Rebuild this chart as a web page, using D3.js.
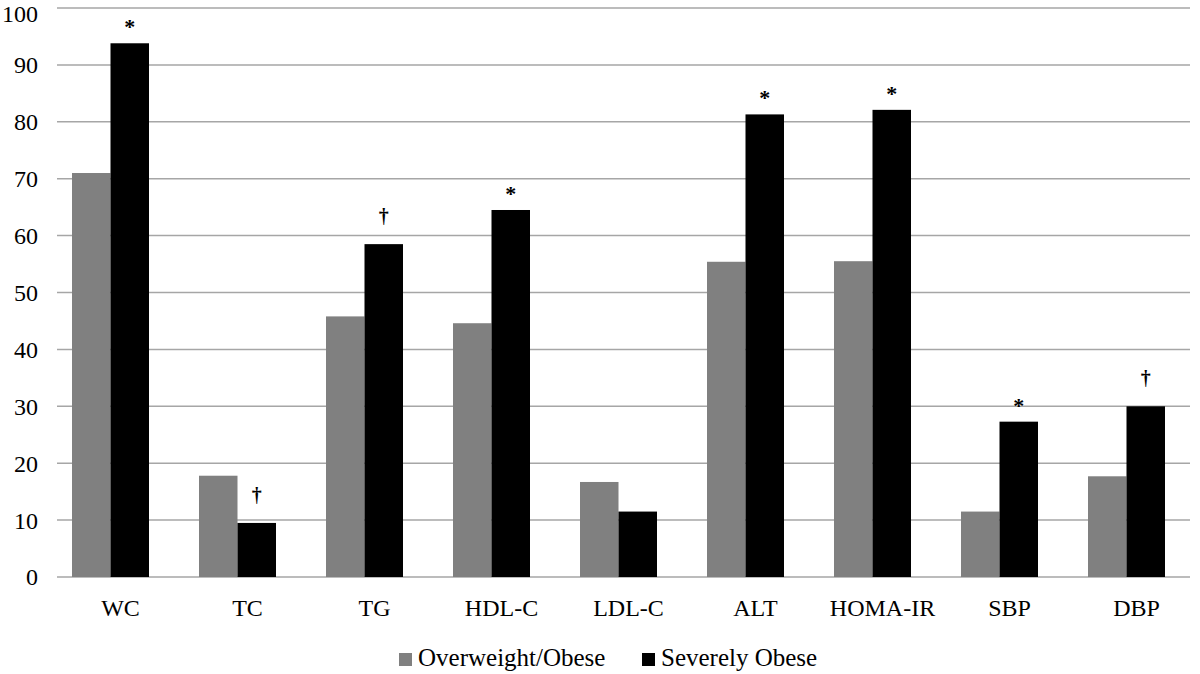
<!DOCTYPE html>
<html lang="en">
<head>
  <meta charset="UTF-8">
  <title>Overweight vs Severely Obese</title>
  <style>
    body { margin: 0; background: #fff; }
    text { font-family: "Liberation Serif", "Times New Roman", serif; fill: #000; }
  </style>
</head>
<body>
  <svg id="chart" width="1200" height="674"></svg>
  <script src="https://d3js.org/d3.v7.min.js"></script>
  <script>
    const categories = ["WC", "TC", "TG", "HDL-C", "LDL-C", "ALT", "HOMA-IR", "SBP", "DBP"];
    const overweight = [71.0, 17.8, 45.8, 44.6, 16.7, 55.4, 55.5, 11.5, 17.7];
    const severe = [93.8, 9.5, 58.5, 64.5, 11.5, 81.3, 82.1, 27.3, 30.0];
    const markers = ["*", "†", "†", "*", "", "*", "*", "*", "†"];
    const yTicks = [0, 10, 20, 30, 40, 50, 60, 70, 80, 90, 100];
    const seriesNames = ["Overweight/Obese", "Severely Obese"];
    const colors = ["#808080", "#000000"];

    const svg = d3.select("#chart");

    // plot area
    const gridLeft = 57, right = 1190;
    const y = d3.scaleLinear().domain([0, 100]).range([577, 8]);
    // bars sit slightly left of the label centers in the original
    const x = d3.scaleBand().domain(categories).range([47, 1190]);
    const xLabel = d3.scaleBand().domain(categories).range([57, 1200]);
    const barW = 38.5;

    // gridlines
    svg.append("g")
      .selectAll("line")
      .data(yTicks)
      .join("line")
      .attr("x1", gridLeft)
      .attr("x2", right)
      .attr("y1", d => y(d))
      .attr("y2", d => y(d))
      .attr("stroke", "#a6a6a6")
      .attr("stroke-width", 1.5);

    // y tick labels (top one nudged down so it stays inside the frame)
    svg.append("g")
      .selectAll("text")
      .data(yTicks)
      .join("text")
      .attr("x", 38)
      .attr("y", d => Math.max(y(d), 14))
      .attr("dy", "0.35em")
      .attr("text-anchor", "end")
      .attr("font-size", 24)
      .text(d => d);

    // bars
    const groups = svg.append("g")
      .selectAll("g")
      .data(categories)
      .join("g")
      .attr("transform", d => `translate(${x(d) + x.bandwidth() / 2},0)`);

    groups.append("rect")
      .attr("x", -barW)
      .attr("width", barW)
      .attr("y", (d, i) => y(overweight[i]))
      .attr("height", (d, i) => y(0) - y(overweight[i]))
      .attr("fill", colors[0]);

    groups.append("rect")
      .attr("x", 0)
      .attr("width", barW)
      .attr("y", (d, i) => y(severe[i]))
      .attr("height", (d, i) => y(0) - y(severe[i]))
      .attr("fill", colors[1]);

    // significance markers: * and † above the severely obese bar
    groups.append("text")
      .attr("x", barW / 2)
      .attr("y", (d, i) => markers[i] === "*" ? y(severe[i]) - 9 : y(severe[i]) - 21)
      .attr("text-anchor", "middle")
      .attr("font-size", (d, i) => markers[i] === "*" ? 22 : 20)
      .attr("font-family", "DejaVu Sans, sans-serif")
      .attr("font-weight", "bold")
      .text((d, i) => markers[i]);

    // category labels
    svg.append("g")
      .selectAll("text")
      .data(categories)
      .join("text")
      .attr("x", d => xLabel(d) + xLabel.bandwidth() / 2)
      .attr("y", 616)
      .attr("text-anchor", "middle")
      .attr("font-size", 24)
      .text(d => d);

    // legend
    const legendX = [399, 642];
    const legend = svg.append("g")
      .selectAll("g")
      .data(seriesNames)
      .join("g")
      .attr("transform", (d, i) => `translate(${legendX[i]},666)`);

    legend.append("rect")
      .attr("x", 0)
      .attr("y", -13)
      .attr("width", 13)
      .attr("height", 13)
      .attr("fill", (d, i) => colors[i]);

    legend.append("text")
      .attr("x", 19)
      .attr("y", 0)
      .attr("font-size", 25)
      .text(d => d);
  </script>
</body>
</html>
